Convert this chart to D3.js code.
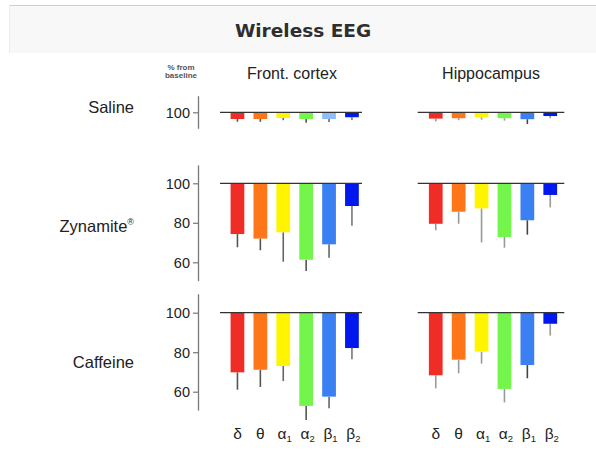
<!DOCTYPE html>
<html><head><meta charset="utf-8">
<script src="https://cdn.jsdelivr.net/npm/d3@7/dist/d3.min.js"></script>
<style>
html,body{margin:0;padding:0;background:#fff;}
svg{display:block;}
</style></head>
<body>
<script>
// ---- data ----
const bands = ["δ","θ","α1","α2","β1","β2"];
const regions = ["Front. cortex","Hippocampus"];
const treatments = ["Saline","Zynamite","Caffeine"];
// mean % from baseline, [front cortex, hippocampus]
const salineMeans   = [[96.6,96.6,97.1,96.6,96.6,97.5],[96.8,97.0,97.5,97.0,96.5,98.1]];
const salineErr     = [[1.4,1.4,1.1,1.9,1.5,1.4],[1.4,1.0,1.2,1.2,2.4,1.1]];
const zynamiteMeans = [[74.3,72.0,75.2,61.3,69.1,88.5],[79.5,85.6,87.3,72.8,81.3,94.1]];
const zynamiteErr   = [[6.7,5.9,14.9,5.7,6.8,10.0],[3.3,6.1,17.2,5.4,7.3,6.3]];
const caffeineMeans = [[69.8,71.1,73.0,52.8,57.5,82.1],[68.3,76.2,80.3,61.4,73.5,94.4]];
const caffeineErr   = [[8.8,8.7,7.6,7.1,5.9,5.7],[6.6,6.9,6.1,6.8,6.7,6.0]];
const rowTicks = [[100],[60,80,100],[60,80,100]];
const rowAxisExtent = [[91.9,108.4],[50.7,109.3],[50.7,109.6]];

// ---- styles ----
const W = 596, H = 455;
const colors = ["#ef2d26","#ff7619","#fff500","#73f54b","#3a80f2","#0018ee"];
const salineFrontColors = ["#ef2d26","#ff7619","#fff500","#73f54b","#8fbcfb","#0018ee"];
const errColors = [["#555","#555","#666","#555","#666","#777"],["#999","#999","#999","#999","#444","#999"]];
const pxPerUnit = 1.975;
const zeroY = [112.3, 183.3, 312.7];
const regionX0 = [226, 424.3];
const regionBaseline = [[220,362],[417.7,564.3]];
const axisX = 198;

const svg = d3.select("body").append("svg").attr("width",W).attr("height",H);
const font = "'Liberation Sans', Arial, Helvetica, sans-serif";

// header
svg.append("rect").attr("x",9).attr("y",5).attr("width",W-9).attr("height",48).attr("fill","#f8f8f8");
svg.append("line").attr("x1",9).attr("x2",W).attr("y1",5.5).attr("y2",5.5).attr("stroke","#d0d0d0").attr("stroke-width",1);
svg.append("line").attr("x1",9.5).attr("x2",9.5).attr("y1",5).attr("y2",53).attr("stroke","#ececec").attr("stroke-width",1);
svg.append("text").attr("x",303).attr("y",37).attr("text-anchor","middle")
  .attr("font-family","'DejaVu Sans', sans-serif").attr("font-weight",700).attr("font-size",18.5)
  .attr("fill","#2e2e2e").text("Wireless EEG");

// column headers
svg.append("text").attr("x",181).attr("y",70).attr("text-anchor","middle").attr("font-family",font)
  .attr("font-size",8).attr("font-weight",700).attr("fill","#555").text("% from");
svg.append("text").attr("x",181).attr("y",77.5).attr("text-anchor","middle").attr("font-family",font)
  .attr("font-size",8).attr("font-weight",700).attr("fill","#555").text("baseline");
const regionCenters = [292, 491];
regions.forEach((r,i)=>{
  svg.append("text").attr("x",regionCenters[i]).attr("y",78.5).attr("text-anchor","middle")
    .attr("font-family",font).attr("font-size",16).attr("fill","#222").text(r);
});

// row labels
const rowLabelY = [112.5, 232, 367.5];
treatments.forEach((t,i)=>{
  const tx = svg.append("text").attr("x",134).attr("y",rowLabelY[i]).attr("text-anchor","end")
    .attr("font-family",font).attr("font-size",16.5).attr("fill","#222").text(t);
  if (t==="Zynamite") tx.append("tspan").attr("font-size",9).attr("dy",-7).text("®");
});

const rowMeans = [salineMeans, zynamiteMeans, caffeineMeans];
const rowErrs = [salineErr, zynamiteErr, caffeineErr];

treatments.forEach((t,ri)=>{
  const ext = rowAxisExtent[ri];
  const y = d3.scaleLinear().domain(ext)
    .range([zeroY[ri] + (100-ext[0])*pxPerUnit, zeroY[ri] - (ext[1]-100)*pxPerUnit]);
  // y axis
  const ax = svg.append("g").attr("transform",`translate(${axisX},0)`)
    .call(d3.axisLeft(y).tickValues(rowTicks[ri]).tickSize(5).tickSizeOuter(0).tickPadding(3));
  ax.select(".domain").attr("stroke","#777").attr("stroke-width",1.3);
  ax.selectAll(".tick line").attr("stroke","#777").attr("stroke-width",1.2);
  ax.selectAll(".tick text").attr("font-family",font).attr("font-size",14.5).attr("fill","#222").attr("dy","0.35em");

  regions.forEach((rg,ci)=>{
    const x = d3.scaleBand().domain(bands).range([regionX0[ci], regionX0[ci]+137.4]).paddingInner(0.4).paddingOuter(0.2);
    const g = svg.append("g");
    const means = rowMeans[ri][ci], errs = rowErrs[ri][ci];
    const cols = (ri===0 && ci===0) ? salineFrontColors : colors;
    // error bars
    g.selectAll("line.err").data(bands).enter().append("line")
      .attr("x1",d=>x(d)+x.bandwidth()/2).attr("x2",d=>x(d)+x.bandwidth()/2)
      .attr("y1",(d,i)=>y(means[i])).attr("y2",(d,i)=>y(means[i]-errs[i]))
      .attr("stroke",(d,i)=>errColors[ci][i]).attr("stroke-width",1.6);
    // bars
    g.selectAll("rect").data(bands).enter().append("rect")
      .attr("x",d=>x(d)).attr("width",x.bandwidth())
      .attr("y",y(100)).attr("height",(d,i)=>y(means[i])-y(100))
      .attr("fill",(d,i)=>cols[i]);
    // baseline
    g.append("line").attr("x1",regionBaseline[ci][0]).attr("x2",regionBaseline[ci][1])
      .attr("y1",y(100)).attr("y2",y(100)).attr("stroke","#333").attr("stroke-width",1.3);
    // x labels on last row
    if (ri===2) {
      const lab = g.selectAll("text.xl").data(bands).enter().append("text")
        .attr("x",d=>x(d)+x.bandwidth()/2 + (d.length>1?1.5:0)).attr("y",438.5).attr("text-anchor","middle")
        .attr("font-family",font).attr("font-size",15.5).attr("fill","#222");
      lab.append("tspan").text(d=>d[0]);
      lab.append("tspan").attr("font-size",9.5).attr("dy",3.5).text(d=>d.slice(1));
    }
  });
});
</script>
</body></html>
